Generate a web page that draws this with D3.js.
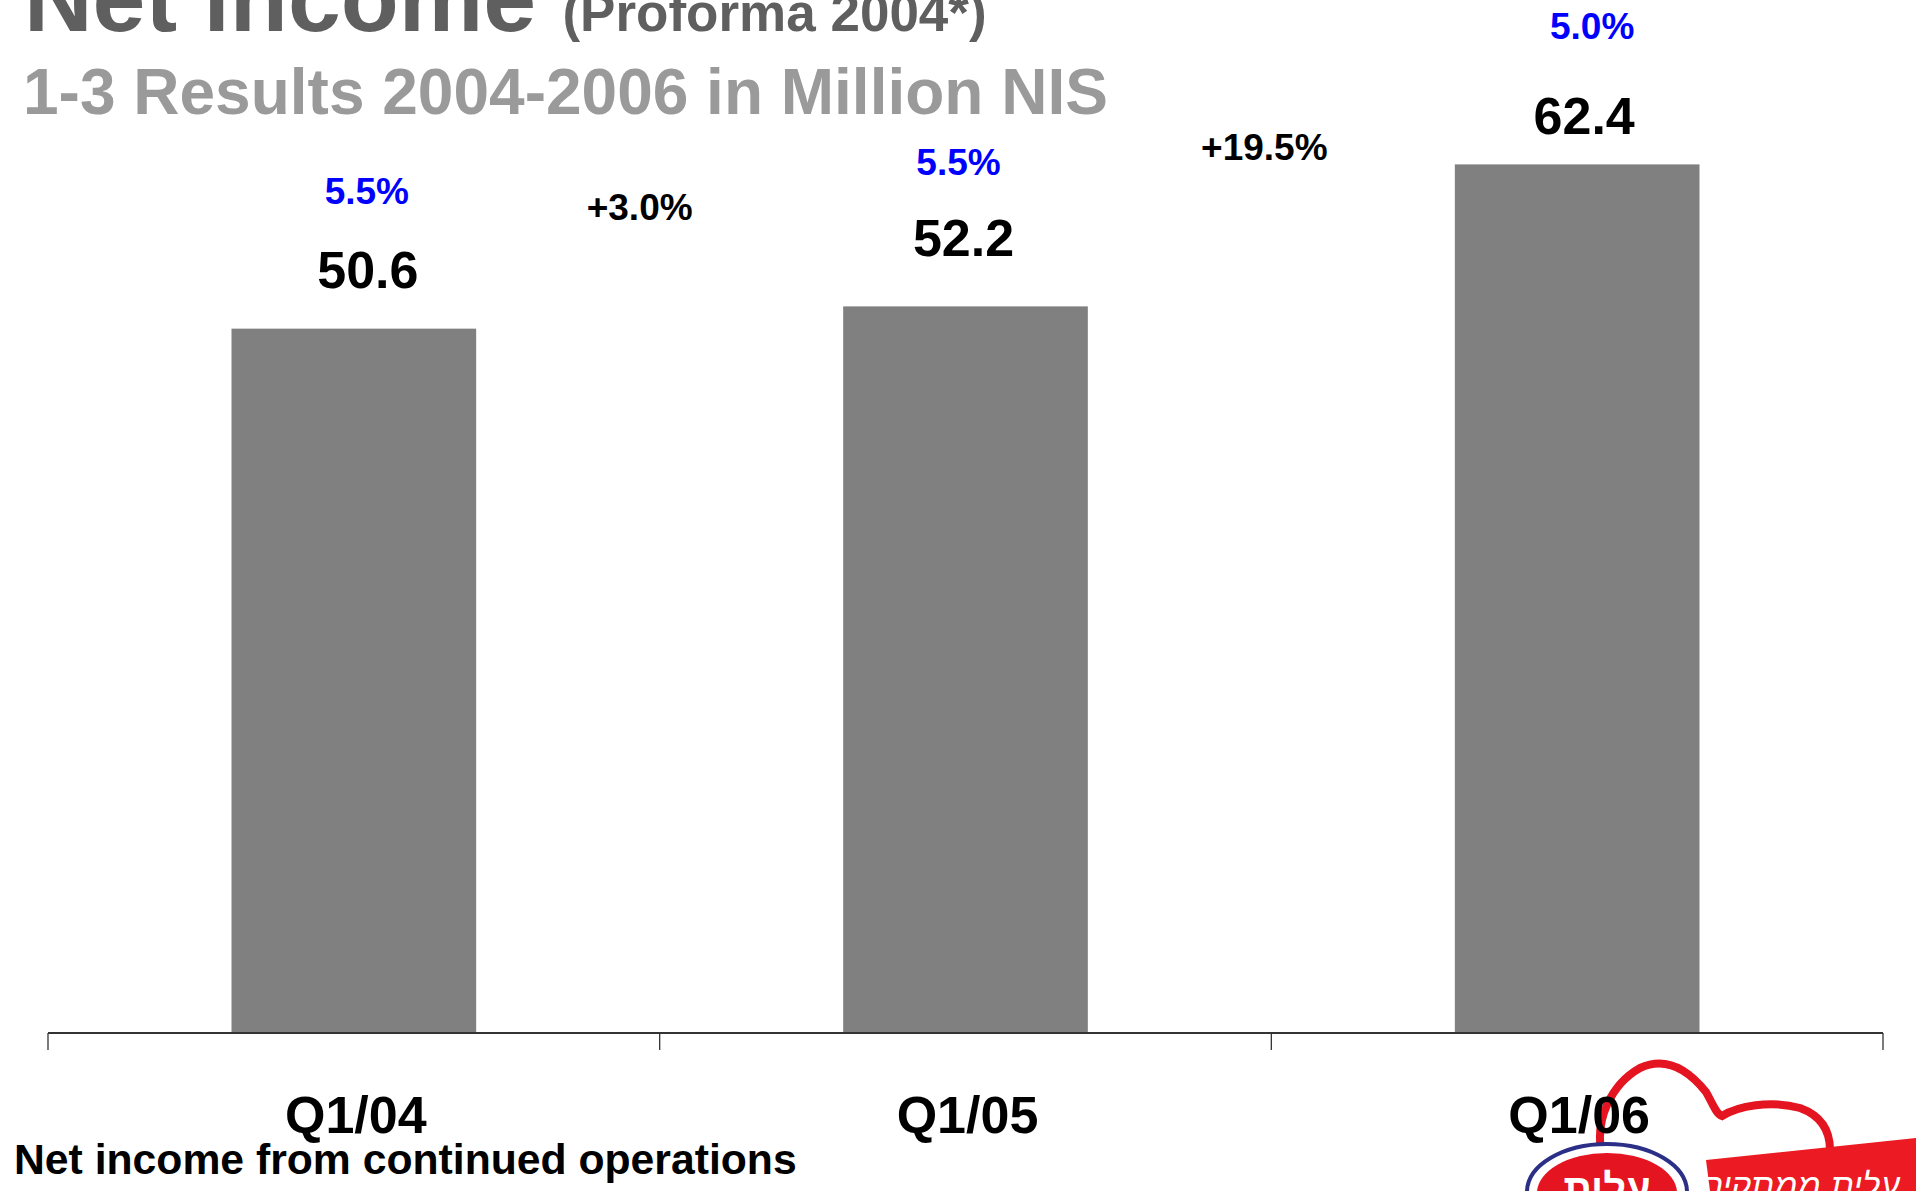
<!DOCTYPE html>
<html>
<head>
<meta charset="utf-8">
<script src="https://cdn.jsdelivr.net/npm/d3@7"></script>
<style>
  html, body { margin: 0; padding: 0; background: #ffffff; }
  svg { display: block; font-family: "Liberation Sans", Arial, sans-serif; }
</style>
</head>
<body>
<script>
// Net income, first quarters 2004-2006 (million NIS)
const categories = ["Q1/04", "Q1/05", "Q1/06"];
const netIncome = [50.6, 52.2, 62.4];
const marginLabels = ["5.5%", "5.5%", "5.0%"];
const growthLabels = ["+3.0%", "+19.5%"];

const W = 1921, H = 1191;
const axisY = 1033, axisLeft = 48, axisRight = 1883;

const svg = d3.select("body").append("svg")
  .attr("width", W).attr("height", H);

// scales
const x = d3.scaleBand()
  .domain(categories)
  .range([axisLeft, axisRight])
  .paddingInner(0.6)
  .paddingOuter(0.3);

const y = d3.scaleLinear()
  .domain([0, 70])
  .range([axisY, axisY - 70 * 13.92]);

// per-label nudges (layout only)
const valueNudge = [[14, -41], [-2, -50], [7, -30]];
const marginNudge = [[13, -125], [-7, -131], [15, -125]];
const growthPos = [[-20, 220], [-7, 160]];

// company logo in the lower right corner (drawn first so labels sit on top)
const logo = svg.append("g").attr("class", "logo");
logo.append("path")
  .attr("d", "M1601,1150 C1596,1120 1610,1085 1640,1068 C1668,1055 1690,1072 1706,1092 C1713,1104 1716,1114 1722,1116 C1738,1106 1770,1100 1800,1108 C1822,1116 1830,1132 1830,1150")
  .attr("fill", "none").attr("stroke", "#e41520").attr("stroke-width", 8)
  .attr("stroke-linecap", "round");
logo.append("path")
  .attr("d", "M1706,1160 L1916,1138 L1916,1191 L1710,1191 Z")
  .attr("fill", "#ec1a22");
logo.append("text")
  .attr("x", 1800).attr("y", 1197)
  .attr("text-anchor", "middle")
  .attr("font-size", 34).attr("font-style", "italic")
  .attr("fill", "#ffffff")
  .text("עלית ממתקים");
logo.append("ellipse")
  .attr("cx", 1607).attr("cy", 1192).attr("rx", 80).attr("ry", 48)
  .attr("fill", "#ffffff").attr("stroke", "#2b2f86").attr("stroke-width", 4);
logo.append("ellipse")
  .attr("cx", 1607).attr("cy", 1193).attr("rx", 70).attr("ry", 40)
  .attr("fill", "#e41520");
logo.append("text")
  .attr("x", 1607).attr("y", 1202)
  .attr("text-anchor", "middle")
  .attr("font-size", 40).attr("font-weight", "bold")
  .attr("fill", "#ffffff")
  .text("עלית");

// bars
svg.append("g").selectAll("rect")
  .data(netIncome)
  .join("rect")
  .attr("x", (d, i) => x(categories[i]))
  .attr("y", d => y(d))
  .attr("width", x.bandwidth())
  .attr("height", d => y(0) - y(d))
  .attr("fill", "#808080");

// axis line with ticks at the band boundaries
const boundaries = d3.range(categories.length + 1).map(i =>
  i === 0 ? axisLeft : i === categories.length ? axisRight
          : x(categories[i]) - x.step() * x.paddingInner() / 2);
const axisG = svg.append("g").attr("stroke", "#333333");
axisG.append("line")
  .attr("x1", axisLeft).attr("x2", axisRight)
  .attr("y1", axisY).attr("y2", axisY)
  .attr("stroke-width", 2);
axisG.selectAll("line.tick")
  .data(boundaries)
  .join("line")
  .attr("class", "tick")
  .attr("x1", d => d).attr("x2", d => d)
  .attr("y1", axisY).attr("y2", axisY + 17)
  .attr("stroke-width", 1.3);

// category labels
const xAxis = svg.append("g")
  .attr("transform", `translate(2,${axisY})`)
  .call(d3.axisBottom(x).tickSize(0).tickPadding(63));
xAxis.select(".domain").remove();
xAxis.selectAll("text")
  .attr("font-family", "'Liberation Sans', Arial, sans-serif")
  .attr("font-size", 52).attr("font-weight", "bold")
  .attr("fill", "#000000");

// value labels
svg.append("g").selectAll("text")
  .data(netIncome)
  .join("text")
  .attr("x", (d, i) => x(categories[i]) + x.bandwidth() / 2 + valueNudge[i][0])
  .attr("y", (d, i) => y(d) + valueNudge[i][1])
  .attr("text-anchor", "middle")
  .attr("font-size", 52).attr("font-weight", "bold")
  .attr("fill", "#000000")
  .text(d => d.toFixed(1));

// margin labels
svg.append("g").selectAll("text")
  .data(marginLabels)
  .join("text")
  .attr("x", (d, i) => x(categories[i]) + x.bandwidth() / 2 + marginNudge[i][0])
  .attr("y", (d, i) => y(netIncome[i]) + marginNudge[i][1])
  .attr("text-anchor", "middle")
  .attr("font-size", 37).attr("font-weight", "bold")
  .attr("fill", "#0000ff")
  .text(d => d);

// year-over-year growth labels, between consecutive bars
svg.append("g").selectAll("text")
  .data(growthLabels)
  .join("text")
  .attr("x", (d, i) => boundaries[i + 1] + growthPos[i][0])
  .attr("y", (d, i) => growthPos[i][1])
  .attr("text-anchor", "middle")
  .attr("font-size", 37).attr("font-weight", "bold")
  .attr("fill", "#000000")
  .text(d => d);

// titles
const title = svg.append("text")
  .attr("x", 24).attr("y", 31)
  .attr("font-weight", "bold")
  .attr("fill", "#5f5f5f");
title.append("tspan").attr("font-size", 95).text("Net income ");
title.append("tspan").attr("font-size", 53).text("(Proforma 2004*)");

svg.append("text")
  .attr("x", 23).attr("y", 114)
  .attr("font-size", 64).attr("font-weight", "bold")
  .attr("fill", "#9a9a9a")
  .text("1-3 Results 2004-2006 in Million NIS");

svg.append("text")
  .attr("x", 14).attr("y", 1174)
  .attr("font-size", 42.7).attr("font-weight", "bold")
  .attr("fill", "#000000")
  .text("Net income from continued operations");
</script>
</body>
</html>
